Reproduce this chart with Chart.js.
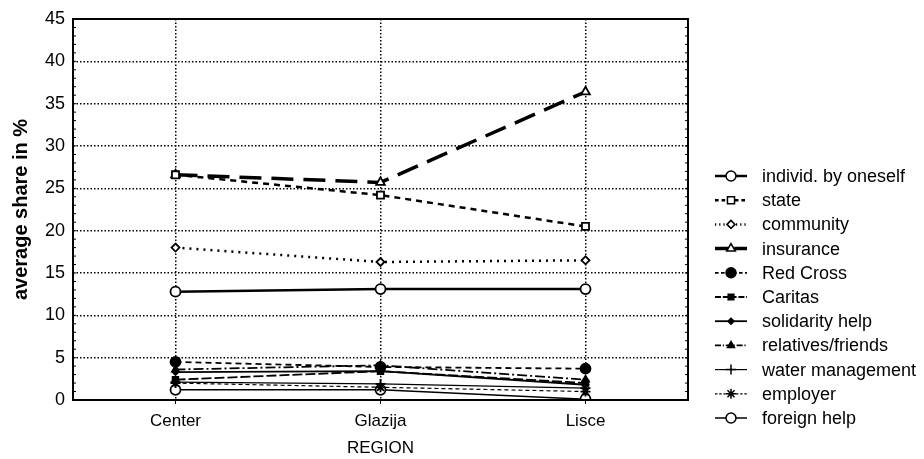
<!DOCTYPE html>
<html>
<head>
<meta charset="utf-8">
<script src="https://cdn.jsdelivr.net/npm/chart.js@4/dist/chart.umd.min.js"></script>
<style>
  html, body { margin: 0; padding: 0; background: #fff; }
  #wrap { width: 924px; height: 459px; position: relative; }
</style>
</head>
<body>
<div id="wrap"><canvas id="shareChart"></canvas></div>
<script>
// regions on the x axis
const regions = ['Center', 'Glazija', 'Lisce'];
const yTicks = [0, 5, 10, 15, 20, 25, 30, 35, 40, 45];

// average share in % per help source
const individ = [12.8, 13.1, 13.1];
const state = [26.6, 24.2, 20.5];
const community = [18.0, 16.3, 16.5];
const insurance = [26.6, 25.7, 36.4];
const redCross = [4.5, 3.9, 3.7];
const caritas = [2.4, 3.4, 2.0];
const solidarity = [3.3, 3.4, 1.8];
const relatives = [3.6, 4.1, 2.4];
const waterMgmt = [2.1, 1.9, 1.4];
const employer = [2.0, 1.5, 1.0];
const foreignHelp = [1.2, 1.2, 0.1];

const seriesLabels = ['individ. by oneself', 'state', 'community', 'insurance', 'Red Cross', 'Caritas',
    'solidarity help', 'relatives/friends', 'water management', 'employer', 'foreign help'];
const seriesData = [individ, state, community, insurance, redCross, caritas,
    solidarity, relatives, waterMgmt, employer, foreignHelp];

// look of each series: dash, width, marker
const looks = [
    { dash: [], w: 2.5, ps: 'circle', r: 5, fill: '#fff' },
    { dash: [6, 5], w: 2.5, ps: 'rect', r: 5, fill: '#fff' },
    { dash: [2, 5], w: 2.5, ps: 'rectRot', r: 4, fill: '#fff' },
    { dash: [22, 10], w: 3.5, ps: 'triangle', r: 5, fill: '#fff' },
    { dash: [6, 4], w: 1.8, ps: 'circle', r: 5, fill: '#000' },
    { dash: [10, 3], w: 1.8, ps: 'rect', r: 4, fill: '#000' },
    { dash: [], w: 1.8, ps: 'rectRot', r: 3, fill: '#000' },
    { dash: [10, 3, 2, 3], w: 1.8, ps: 'triangle', r: 4, fill: '#000' },
    { dash: [], w: 1.2, ps: 'cross', r: 5, fill: '#000' },
    { dash: [4, 3], w: 1.2, ps: 'star', r: 5, fill: '#000' },
    { dash: [], w: 1.5, ps: 'circle', r: 5, fill: '#fff' }
];

const datasets = seriesLabels.map(function (label, i) {
    const lk = looks[i];
    return {
        label: label,
        data: seriesData[i],
        borderColor: '#000',
        borderWidth: lk.w,
        borderDash: lk.dash,
        tension: 0,
        fill: false,
        pointStyle: lk.ps,
        pointRadius: lk.r,
        pointBorderWidth: 1.8,
        pointBorderColor: '#000',
        pointBackgroundColor: lk.fill
    };
});

// box, small axis ticks and the legend on the right
const framePlugin = {
    id: 'frame',
    afterDraw(chart) {
        const ctx = chart.ctx;
        const a = chart.chartArea;
        const ys = chart.scales.y;
        const xs = chart.scales.x;
        ctx.save();
        ctx.strokeStyle = '#000';
        ctx.lineWidth = 2;
        ctx.setLineDash([]);
        ctx.strokeRect(a.left, a.top, a.right - a.left, a.bottom - a.top);

        ctx.lineWidth = 1;
        for (let v = 1; v < 45; v++) {
            const py = ys.getPixelForValue(v);
            ctx.beginPath();
            ctx.moveTo(a.left, py); ctx.lineTo(a.left + 3, py);
            ctx.moveTo(a.right, py); ctx.lineTo(a.right - 3, py);
            ctx.stroke();
        }
        regions.forEach(function (r, i) {
            const px = xs.getPixelForValue(i);
            ctx.beginPath();
            ctx.moveTo(px, a.bottom); ctx.lineTo(px, a.bottom + 4);
            ctx.stroke();
        });

        // legend
        const x0 = 715, x1 = 747, tx = 762;
        ctx.font = '18px "Liberation Sans", Arial, sans-serif';
        ctx.textBaseline = 'middle';
        ctx.fillStyle = '#000';
        chart.data.datasets.forEach(function (ds, i) {
            const y = 176 + i * 24.2;
            ctx.lineWidth = ds.borderWidth;
            ctx.setLineDash(ds.borderDash.map(function (d) { return d * 0.6; }));
            ctx.beginPath();
            ctx.moveTo(x0, y); ctx.lineTo(x1, y);
            ctx.stroke();
            ctx.setLineDash([]);
            ctx.lineWidth = 1.5;
            ctx.fillStyle = ds.pointBackgroundColor;
            Chart.helpers.drawPoint(ctx, {
                pointStyle: ds.pointStyle,
                radius: ds.pointRadius,
                rotation: 0,
                borderWidth: 1.5
            }, (x0 + x1) / 2, y);
            ctx.fillStyle = '#000';
            ctx.fillText(ds.label, tx, y + 1);
        });
        ctx.restore();
    }
};

const ctxEl = document.getElementById('shareChart');
new Chart(ctxEl, {
    type: 'line',
    data: { labels: regions, datasets: datasets },
    options: {
        responsive: true,
        maintainAspectRatio: false,
        animation: false,
        layout: { padding: { left: 0, right: 236, top: 19, bottom: 0 } },
        plugins: {
            legend: { display: false },
            tooltip: { enabled: false }
        },
        scales: {
            x: {
                offset: true,
                grid: {
                    offset: false,
                    color: '#000',
                    lineWidth: 1.5,
                    drawTicks: false
                },
                border: { display: false, dash: [1.5, 2] },
                ticks: {
                    color: '#000',
                    padding: 11,
                    font: { family: '"Liberation Sans", Arial, sans-serif', size: 17 }
                },
                title: {
                    display: true,
                    text: 'REGION',
                    color: '#000',
                    padding: { top: 0, bottom: 0 },
                    font: { family: '"Liberation Sans", Arial, sans-serif', size: 17 }
                },
                afterFit(scale) { scale.height = 59; }
            },
            y: {
                min: 0,
                max: 45,
                afterBuildTicks(scale) { scale.ticks = yTicks.map(function (v) { return { value: v }; }); },
                grid: {
                    color: '#000',
                    lineWidth: 1.5,
                    drawTicks: false
                },
                border: { display: false, dash: [1.5, 2] },
                ticks: {
                    color: '#000',
                    padding: 8,
                    font: { family: '"Liberation Sans", Arial, sans-serif', size: 18 }
                },
                title: {
                    display: true,
                    text: 'average share in %',
                    color: '#000',
                    padding: { top: 9, bottom: 0 },
                    font: { family: '"Liberation Sans", Arial, sans-serif', size: 20, weight: 'bold' }
                },
                afterFit(scale) { scale.width = 73; }
            }
        }
    },
    plugins: [framePlugin]
});
</script>
</body>
</html>
